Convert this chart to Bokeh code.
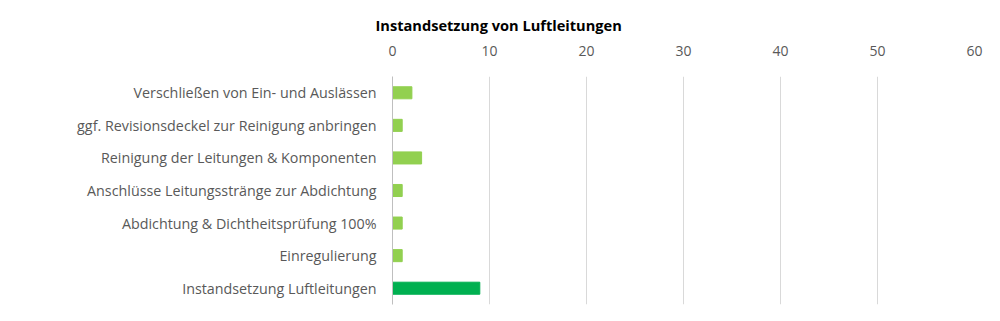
from bokeh.plotting import figure
from bokeh.models import ColumnDataSource, FixedTicker, Title
from bokeh.embed import file_html
from bokeh.resources import INLINE

categories = [
    "Verschließen von Ein- und Auslässen",
    "ggf. Revisionsdeckel zur Reinigung anbringen",
    "Reinigung der Leitungen & Komponenten",
    "Anschlüsse Leitungsstränge zur Abdichtung",
    "Abdichtung & Dichtheitsprüfung 100%",
    "Einregulierung",
    "Instandsetzung Luftleitungen",
]
values = [2, 1, 3, 1, 1, 1, 9]
colors = ["#92D050", "#92D050", "#92D050", "#92D050", "#92D050", "#92D050", "#00B050"]
ticks = [0, 10, 20, 30, 40, 50, 60]

FONT = "Open Sans"
GRAY = "#595959"

src = ColumnDataSource(dict(cat=categories, val=values, color=colors))

p = figure(
    width=1000, height=321,
    y_range=list(reversed(categories)),
    x_range=(0, 60),
    x_axis_location="above",
    output_backend="svg", toolbar_location=None,
    min_border_left=392, min_border_right=26,
    min_border_top=76, min_border_bottom=17,
)
p.hbar(y="cat", right="val", left=0, height=0.37, color="color", source=src)

p.title = Title(text="Instandsetzung von Luftleitungen", align="left", offset=-17,
                standoff=16,
                text_font=FONT, text_font_size="14.6px", text_font_style="bold",
                text_color="#000000")

xa = p.xaxis[0]
xa.ticker = FixedTicker(ticks=ticks)
xa.axis_line_color = None
xa.major_tick_line_color = None
xa.minor_tick_line_color = None
xa.major_label_text_font = FONT
xa.major_label_text_font_size = "14px"
xa.major_label_text_color = GRAY
xa.major_label_standoff = 15

ya = p.yaxis[0]
ya.axis_line_color = "#BFBFBF"
ya.major_tick_line_color = None
ya.minor_tick_line_color = None
ya.major_label_text_font = FONT
ya.major_label_text_font_size = "14.3px"
ya.major_label_text_color = GRAY
ya.major_label_standoff = 10

p.xgrid.ticker = FixedTicker(ticks=ticks)
p.xgrid.grid_line_color = "#D9D9D9"
p.ygrid.grid_line_color = None
p.outline_line_color = None
p.background_fill_color = "white"
p.border_fill_color = "white"

open("out.html", "w").write(file_html(p, INLINE))
